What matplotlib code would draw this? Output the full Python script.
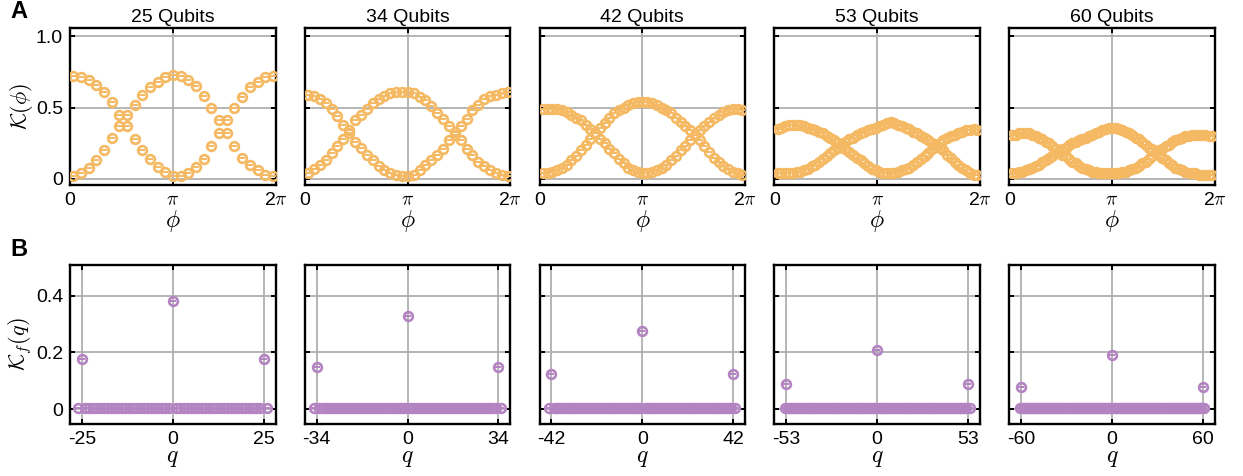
import matplotlib.pyplot as plt
import numpy as np

plt.rcParams['font.family'] = ['Liberation Sans', 'DejaVu Sans']
plt.rcParams['mathtext.fontset'] = 'cm'

ORANGE = '#F4B962'
PURPLE = '#B483C1'

qubits = [25, 34, 42, 53, 60]

# K(phi): the branch that starts high and the branch that starts low
k_high = {
    25: [0.72, 0.71, 0.69, 0.66, 0.61, 0.54, 0.45, 0.37, 0.28, 0.20, 0.14, 0.086, 0.047, 0.02,
         0.02, 0.045, 0.085, 0.14, 0.23, 0.32, 0.41, 0.50, 0.57, 0.64, 0.68, 0.71, 0.72],
    34: [0.59, 0.58, 0.56, 0.53, 0.49, 0.44, 0.38, 0.32, 0.26, 0.22, 0.17, 0.13, 0.09, 0.065,
         0.045, 0.03, 0.02, 0.02, 0.03, 0.06, 0.10, 0.13, 0.17, 0.21, 0.27, 0.31, 0.37, 0.42,
         0.48, 0.52, 0.56, 0.58, 0.59, 0.60, 0.61],
    42: [0.49, 0.49, 0.49, 0.49, 0.48, 0.47, 0.45, 0.43, 0.41, 0.38, 0.35, 0.32, 0.28, 0.25,
         0.21, 0.18, 0.14, 0.11, 0.08, 0.06, 0.05, 0.04, 0.04, 0.05, 0.06, 0.08, 0.10, 0.13,
         0.16, 0.20, 0.23, 0.27, 0.31, 0.34, 0.37, 0.40, 0.43, 0.45, 0.47, 0.48, 0.49, 0.49,
         0.48],
    53: [0.35, 0.36, 0.37, 0.38, 0.38, 0.38, 0.38, 0.37, 0.36, 0.35, 0.34, 0.33, 0.32, 0.30,
         0.29, 0.27, 0.25, 0.23, 0.21, 0.19, 0.17, 0.15, 0.13, 0.11, 0.09, 0.07, 0.06, 0.05,
         0.04, 0.04, 0.04, 0.04, 0.05, 0.06, 0.07, 0.08, 0.10, 0.12, 0.14, 0.16, 0.18, 0.21,
         0.23, 0.25, 0.27, 0.29, 0.30, 0.31, 0.32, 0.33, 0.34, 0.34, 0.35, 0.34],
    60: [0.31, 0.31, 0.32, 0.32, 0.32, 0.32, 0.31, 0.30, 0.29, 0.28, 0.26, 0.25, 0.23, 0.21,
         0.19, 0.17, 0.16, 0.14, 0.12, 0.11, 0.09, 0.08, 0.07, 0.06, 0.05, 0.05, 0.04, 0.04,
         0.04, 0.04, 0.04, 0.04, 0.04, 0.05, 0.05, 0.06, 0.07, 0.08, 0.09, 0.11, 0.12, 0.14,
         0.16, 0.18, 0.20, 0.21, 0.23, 0.24, 0.26, 0.27, 0.28, 0.29, 0.30, 0.30, 0.31, 0.31,
         0.31, 0.31, 0.31, 0.30, 0.30],
}
k_low = {
    25: [0.02, 0.04, 0.075, 0.13, 0.20, 0.29, 0.37, 0.45, 0.52, 0.59, 0.64, 0.68, 0.71, 0.73,
         0.72, 0.69, 0.65, 0.58, 0.50, 0.41, 0.32, 0.23, 0.15, 0.10, 0.06, 0.03, 0.02],
    34: [0.04, 0.07, 0.10, 0.13, 0.18, 0.23, 0.28, 0.34, 0.41, 0.45, 0.49, 0.53, 0.56, 0.58,
         0.60, 0.61, 0.61, 0.61, 0.60, 0.57, 0.55, 0.51, 0.46, 0.42, 0.37, 0.33, 0.27, 0.21,
         0.17, 0.12, 0.09, 0.065, 0.045, 0.025, 0.02],
    42: [0.04, 0.04, 0.05, 0.06, 0.08, 0.10, 0.13, 0.16, 0.20, 0.24, 0.28, 0.32, 0.36, 0.39,
         0.43, 0.46, 0.48, 0.50, 0.52, 0.53, 0.54, 0.54, 0.54, 0.53, 0.52, 0.50, 0.48, 0.46,
         0.43, 0.40, 0.37, 0.34, 0.31, 0.27, 0.23, 0.19, 0.15, 0.12, 0.09, 0.07, 0.05, 0.04,
         0.03],
    53: [0.04, 0.04, 0.04, 0.04, 0.04, 0.05, 0.05, 0.06, 0.07, 0.09, 0.10, 0.12, 0.14, 0.16,
         0.18, 0.20, 0.22, 0.24, 0.26, 0.28, 0.29, 0.31, 0.32, 0.33, 0.34, 0.35, 0.36, 0.37,
         0.38, 0.39, 0.40, 0.39, 0.38, 0.37, 0.36, 0.35, 0.33, 0.32, 0.30, 0.29, 0.27, 0.25,
         0.24, 0.22, 0.20, 0.17, 0.15, 0.12, 0.10, 0.08, 0.06, 0.04, 0.03, 0.03],
    60: [0.04, 0.04, 0.05, 0.05, 0.06, 0.07, 0.08, 0.09, 0.10, 0.12, 0.13, 0.15, 0.16, 0.18,
         0.19, 0.21, 0.22, 0.24, 0.25, 0.26, 0.27, 0.28, 0.29, 0.30, 0.31, 0.32, 0.33, 0.34,
         0.35, 0.36, 0.36, 0.36, 0.35, 0.34, 0.33, 0.32, 0.31, 0.29, 0.28, 0.26, 0.24, 0.22,
         0.21, 0.19, 0.17, 0.15, 0.13, 0.11, 0.10, 0.08, 0.07, 0.06, 0.05, 0.04, 0.04, 0.04,
         0.03, 0.03, 0.03, 0.03, 0.03],
}

# K_f(q): weight at q = 0 and q = +-N, everything else sits near zero
kf_center = [0.38, 0.33, 0.275, 0.21, 0.19]
kf_edge = [0.178, 0.15, 0.125, 0.09, 0.077]
kf_floor = [0.005, 0.004, 0.004, 0.003, 0.003]

W, H = 1243, 476
fig = plt.figure(figsize=(W / 100, H / 100), dpi=100)

FS = 14


def style(ax):
    ax.tick_params(direction='in', length=3.5, width=1.4, top=True, right=True,
                   labelsize=FS, pad=5)
    for s in ax.spines.values():
        s.set_linewidth(1.7)
    ax.grid(True, color='#b0b0b0', lw=1.3)
    ax.set_axisbelow(True)


def marks(ax, x, y, color):
    ax.plot(x, y, 'o', ms=6.3, mfc='none', mec=color, mew=1.9, zorder=3)
    ax.plot(x, y, '_', ms=5.0, mec=color, mew=1.4, zorder=3)


for i, n in enumerate(qubits):
    left = (70 + 234.8 * i) / W
    width = 205.5 / W

    # row A
    ax = fig.add_axes([left, (H - 185) / H, width, 157 / H])
    style(ax)
    hi = k_high[n]
    lo = k_low[n]
    phi = np.linspace(0.1, 2 * np.pi - 0.08, len(hi))
    marks(ax, phi, hi, ORANGE)
    marks(ax, phi, lo, ORANGE)
    ax.set_xlim(0, 2 * np.pi)
    ax.set_ylim(-0.042, 1.056)
    ax.set_xticks([0, np.pi, 2 * np.pi])
    ax.set_xticklabels(['0', r'$\pi$', r'2$\pi$'])
    ax.set_yticks([0, 0.5, 1.0])
    if i == 0:
        ax.set_yticklabels(['0', '0.5', '1.0'])
        ax.set_ylabel(r'$\mathcal{K}(\phi)$', fontsize=FS + 2, labelpad=1)
    else:
        ax.set_yticklabels([])
    ax.set_xlabel(r'$\phi$', fontsize=FS + 3, labelpad=-1)
    ax.set_title(f'{n} Qubits', fontsize=FS, pad=4)

    # row B
    ax = fig.add_axes([left, (H - 424) / H, width, 159 / H])
    style(ax)
    q = np.arange(-n - 1, n + 2)
    floor_q = q[(q != 0) & (np.abs(q) != n)]
    marks(ax, floor_q, [kf_floor[i]] * len(floor_q), PURPLE)
    marks(ax, [-n, 0, n], [kf_edge[i], kf_center[i], kf_edge[i]], PURPLE)
    lim = 1.13 * n
    ax.set_xlim(-lim, lim)
    ax.set_ylim(-0.052, 0.508)
    ax.set_xticks([-n, 0, n])
    ax.set_xticklabels([f'-{n}', '0', f'{n}'])
    ax.set_yticks([0, 0.2, 0.4])
    if i == 0:
        ax.set_yticklabels(['0', '0.2', '0.4'])
        ax.set_ylabel(r'$\mathcal{K}_f(q)$', fontsize=FS + 2, labelpad=1)
    else:
        ax.set_yticklabels([])
    ax.set_xlabel(r'$q$', fontsize=FS + 3, labelpad=-1)

fig.text(10 / W, 1 - 11 / H, 'A', fontsize=17, fontweight='bold', va='center')
fig.text(10 / W, 1 - 249 / H, 'B', fontsize=17, fontweight='bold', va='center')

fig.savefig('out.png', dpi=100)
